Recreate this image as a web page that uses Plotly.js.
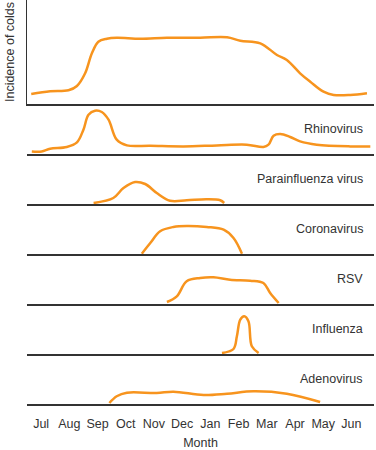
<!DOCTYPE html>
<html>
<head>
<meta charset="utf-8">
<script src="https://cdn.plot.ly/plotly-3.0.1.min.js"></script>
<style>body{margin:0;padding:0;background:#fff}#chart{width:376px;height:450px}</style>
</head>
<body>
<div id="chart"></div>
<script>
const months = ["Jul","Aug","Sep","Oct","Nov","Dec","Jan","Feb","Mar","Apr","May","Jun"];
const panelNames = ["", "Rhinovirus", "Parainfluenza virus", "Coronavirus", "RSV", "Influenza", "Adenovirus"];

const allX = [-0.35,0.32,0.97,1.27,1.56,1.80,2.03,2.33,2.68,3.51,4.46,5.64,6.59,7.06,7.77,8.36,8.71,9.18,9.54,10.01,10.37,10.96,11.55];
const allY = [10,12.7,13.7,18,30.7,50.7,62.3,65.3,66.3,65.3,66.3,66.3,66.7,63.3,60.7,49,44,30.7,22.3,12.3,9,9,10.7];

const rhinoX = [-0.33,0.02,0.32,0.91,1.27,1.50,1.68,1.91,2.15,2.39,2.68,3.04,3.87,5.05,6.23,7.29,7.88,8.06,8.24,8.48,8.83,9.18,9.77,10.96,11.67];
const rhinoY = [2.6,2.6,5.3,7,11.6,24.3,39.3,43.3,42,34.3,14.3,8.6,8.3,7.6,8.6,9.3,7,9.3,18.3,20,17,12.6,9.3,7.6,7.6];

const paraX = [1.86,2.56,2.92,3.33,3.69,4.10,4.57,5.16,5.87,6.35,6.49];
const paraY = [1,6,16,22,20,11,3.3,3.7,4.7,3.7,1];

const coronaX = [3.57,3.87,4.22,4.69,5.16,5.87,6.47,6.82,7.12];
const coronaY = [0.3,11,22.7,27,28,27,24.3,16,0.3];

const rsvX = [4.46,4.81,5.16,5.64,6.11,6.70,7.41,7.88,8.12,8.42];
const rsvY = [2,7.7,22.7,26,26.7,24.3,23.3,21,11,1];

const fluX = [6.41,6.82,6.94,7.06,7.20,7.35,7.47,7.71];
const fluY = [1,5,17.7,34.3,37.7,32.7,7.7,1];

const adenoX = [2.42,2.68,3.04,4.10,4.69,5.76,6.59,7.53,8.71,9.89];
const adenoY = [1,7.7,11.3,11,12.3,9,10.3,12.7,10.3,2];

const seriesX = [allX, rhinoX, paraX, coronaX, rsvX, fluX, adenoX];
const seriesY = [allY, rhinoY, paraY, coronaY, rsvY, fluY, adenoY];

const ORANGE = "#F7941E";
const AXC = "#333333";
const H = 404; // plot area height in px
const traces = [];
const layout = {
  width: 376, height: 450,
  margin: {l: 27, r: 2, t: 0, b: 46},
  paper_bgcolor: "#fff", plot_bgcolor: "#fff",
  showlegend: false,
  font: {family: "Liberation Sans, Arial, sans-serif", size: 12, color: "#333"},
  annotations: []
};

for (let k = 0; k < 7; k++) {
  const xa = k === 0 ? "x" : "x" + (k + 1);
  const ya = k === 0 ? "y" : "y" + (k + 1);
  traces.push({
    x: seriesX[k], y: seriesY[k], xaxis: xa, yaxis: ya,
    type: "scatter", mode: "lines",
    line: {color: ORANGE, width: 2.5, shape: "spline", smoothing: 1},
    hoverinfo: "skip"
  });
  let dom, rng;
  if (k === 0) { dom = [300 / H, 1]; rng = [0, 104]; }
  else { dom = [(300 - 50 * k) / H, (350 - 50 * k) / H]; rng = [0, 50]; }
  const xKey = k === 0 ? "xaxis" : "xaxis" + (k + 1);
  const yKey = k === 0 ? "yaxis" : "yaxis" + (k + 1);
  layout[xKey] = {
    anchor: ya, range: [-0.5, 11.8], showgrid: false, zeroline: false,
    showline: true, linecolor: AXC, linewidth: 1.5,
    tickvals: months.map((m, i) => i), ticktext: months,
    showticklabels: k === 6, fixedrange: true,
    ticks: k === 6 ? "outside" : "", ticklen: 7, tickcolor: "rgba(0,0,0,0)",
    tickfont: {size: 12.5, color: "#333"}
  };
  if (k !== 0) layout[xKey].matches = "x";
  if (k === 6) layout[xKey].title = {text: "Month", font: {size: 12.5, color: "#333"}, standoff: 10};
  layout[yKey] = {
    anchor: xa, domain: dom, range: rng, showgrid: false, zeroline: false,
    showticklabels: false, ticks: "", fixedrange: true,
    showline: k === 0, linecolor: AXC, linewidth: 1.5
  };
  if (k === 0) layout[yKey].title = {text: "Incidence of colds", font: {size: 12.5, color: "#333"}, standoff: 8};
  if (k > 0) {
    layout.annotations.push({
      text: panelNames[k], xref: "paper", x: (365 - 27) / 347, xanchor: "right",
      yref: ya, y: 25, yanchor: "middle", showarrow: false,
      font: {size: 12.5, color: "#333"}
    });
  }
}

Plotly.newPlot("chart", traces, layout, {displayModeBar: false, staticPlot: true});
</script>
</body>
</html>
